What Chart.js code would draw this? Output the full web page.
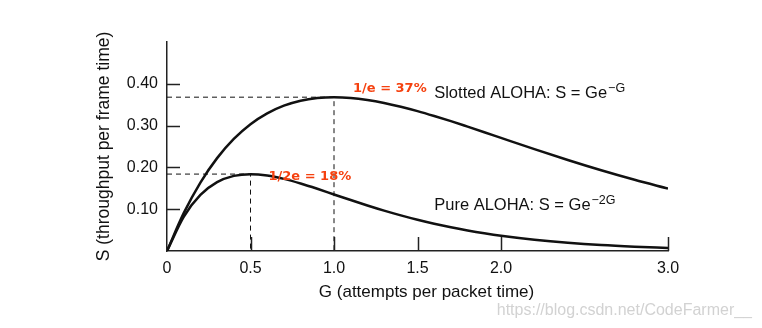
<!DOCTYPE html>
<html>
<head>
<meta charset="utf-8">
<script src="https://cdn.jsdelivr.net/npm/chart.js@4/dist/chart.umd.min.js"></script>
<style>
  html, body { margin: 0; padding: 0; background: #ffffff; }
  #wrap { position: relative; width: 762px; height: 328px; }
</style>
</head>
<body>
<div id="wrap"><canvas id="c" width="762" height="328"></canvas></div>
<script>
// ---- data ----
const gValues      = [0, 0.1, 0.2, 0.3, 0.4, 0.5, 0.6, 0.7, 0.8, 0.9, 1.0, 1.1, 1.2, 1.3, 1.4, 1.5, 1.6, 1.7, 1.8, 1.9, 2.0, 2.2, 2.4, 2.6, 2.8, 3.0];
const slottedAloha = [0, 0.0905, 0.1637, 0.2222, 0.2681, 0.3033, 0.3293, 0.3476, 0.3595, 0.3659, 0.3679, 0.3662, 0.3614, 0.3543, 0.3452, 0.3347, 0.3230, 0.3106, 0.2975, 0.2842, 0.2707, 0.2438, 0.2177, 0.1931, 0.1703, 0.1494];
const pureAloha    = [0, 0.0819, 0.1341, 0.1646, 0.1797, 0.1839, 0.1807, 0.1726, 0.1615, 0.1488, 0.1353, 0.1219, 0.1089, 0.0966, 0.0852, 0.0747, 0.0652, 0.0567, 0.0492, 0.0425, 0.0366, 0.0271, 0.0198, 0.0143, 0.0104, 0.0074];
const slottedPeak  = [1.0, 0.368];
const purePeak     = [0.5, 0.184];
const xTickValues  = [0, 0.5, 1.0, 1.5, 2.0, 3.0];
const xTickLabels  = ['0', '0.5', '1.0', '1.5', '2.0', '3.0'];
const yTickValues  = [0.1, 0.2, 0.3, 0.4];
const yTickLabels  = ['0.10', '0.20', '0.30', '0.40'];
const xTitle = 'G (attempts per packet time)';
const yTitle = 'S (throughput per frame time)';
const slottedPeakText = '1/e = 37%';
const purePeakText = '1/2e = 18%';
const slottedLabel = ['Slotted ALOHA: S = Ge', '\u2212G'];
const pureLabel = ['Pure ALOHA: S = Ge', '\u22122G'];
const watermark = 'https://blog.csdn.net/CodeFarmer__';

const toPts = (ys) => gValues.map((g, i) => ({ x: g, y: ys[i] }));
const dropLine = (p) => [{ x: 0, y: p[1] }, { x: p[0], y: p[1] }, { x: p[0], y: 0 }];

const FONT = '"Liberation Sans", Arial, Helvetica, sans-serif';

const overlay = {
  id: 'overlay',
  afterDatasetsDraw(chart) {
    const { ctx, scales: { x, y } } = chart;
    ctx.save();
    // inward tick marks
    ctx.strokeStyle = '#222';
    ctx.lineWidth = 1.5;
    xTickValues.forEach(v => {
      if (v === 0) return;
      const px = Math.round(x.getPixelForValue(v)) + 0.5;
      ctx.beginPath(); ctx.moveTo(px, y.bottom); ctx.lineTo(px, y.bottom - 14); ctx.stroke();
    });
    yTickValues.forEach(v => {
      const py = Math.round(y.getPixelForValue(v)) + 0.5;
      ctx.beginPath(); ctx.moveTo(x.left, py); ctx.lineTo(x.left + 13, py); ctx.stroke();
    });

    // x axis title
    ctx.fillStyle = '#111';
    ctx.font = '17px ' + FONT;
    ctx.textAlign = 'center';
    ctx.textBaseline = 'middle';
    ctx.fillText(xTitle, x.getPixelForValue(1.554), y.bottom + 41);

    // red peak annotations
    ctx.fillStyle = '#f5410f';
    ctx.font = 'bold 13px "DejaVu Sans", Verdana, sans-serif';
    ctx.textAlign = 'left';
    ctx.fillText(slottedPeakText, x.getPixelForValue(slottedPeak[0]) + 19, y.getPixelForValue(slottedPeak[1]) - 9);
    ctx.fillText(purePeakText, x.getPixelForValue(purePeak[0]) + 18, y.getPixelForValue(purePeak[1]) + 3);

    // formula labels
    const drawLabel = (parts, lx, ly) => {
      ctx.fillStyle = '#111';
      ctx.font = '16.5px ' + FONT;
      ctx.fillText(parts[0], lx, ly);
      const w = ctx.measureText(parts[0]).width;
      ctx.font = '12.5px ' + FONT;
      ctx.fillText(parts[1], lx + w + 1, ly - 5);
    };
    const labelX = x.getPixelForValue(1.6);
    drawLabel(slottedLabel, labelX, y.getPixelForValue(slottedPeak[1]) - 4);
    drawLabel(pureLabel, labelX, y.getPixelForValue(0.112) + 1);

    // watermark
    ctx.fillStyle = '#d2d2d2';
    ctx.font = '16px ' + FONT;
    ctx.textAlign = 'right';
    ctx.fillText(watermark, chart.width - 10, chart.height - 17);
    ctx.restore();
  }
};

new Chart(document.getElementById('c'), {
  type: 'line',
  data: {
    datasets: [
      { data: toPts(slottedAloha), borderColor: '#111', borderWidth: 2.5, pointRadius: 0, cubicInterpolationMode: 'monotone', fill: false },
      { data: toPts(pureAloha), borderColor: '#111', borderWidth: 2.5, pointRadius: 0, cubicInterpolationMode: 'monotone', fill: false },
      { data: dropLine(slottedPeak), borderColor: '#111', borderWidth: 1, borderDash: [5, 4], pointRadius: 0, tension: 0, fill: false },
      { data: dropLine(purePeak), borderColor: '#111', borderWidth: 1, borderDash: [5, 4], pointRadius: 0, tension: 0, fill: false }
    ]
  },
  options: {
    responsive: false,
    animation: false,
    events: [],
    layout: { padding: { top: 42, right: 94, left: 0, bottom: 0 } },
    plugins: { legend: { display: false }, tooltip: { enabled: false } },
    scales: {
      x: {
        type: 'linear', min: 0, max: 3,
        afterBuildTicks: (s) => { s.ticks = xTickValues.map(v => ({ value: v })); },
        afterFit: (s) => { s.height = 77; },
        grid: { display: false, drawTicks: false },
        border: { display: true, color: '#222', width: 1.5 },
        ticks: {
          padding: 8, color: '#111', font: { family: FONT, size: 16 }, maxRotation: 0, autoSkip: false,
          callback: (v) => xTickLabels[xTickValues.indexOf(v)]
        },
        title: { display: false }
      },
      y: {
        type: 'linear', min: 0, max: 0.5,
        afterBuildTicks: (s) => { s.ticks = yTickValues.map(v => ({ value: v })); },
        afterFit: (s) => { s.width = 167; },
        grid: { display: false, drawTicks: false },
        border: { display: true, color: '#222', width: 1.5 },
        ticks: {
          padding: 9, color: '#111', font: { family: FONT, size: 16 }, autoSkip: false,
          callback: (v) => yTickLabels[yTickValues.indexOf(v)]
        },
        title: { display: true, text: yTitle, color: '#111', font: { family: FONT, size: 17.5 }, padding: { top: 94, bottom: 0 } }
      }
    }
  },
  plugins: [overlay]
});
</script>
</body>
</html>
